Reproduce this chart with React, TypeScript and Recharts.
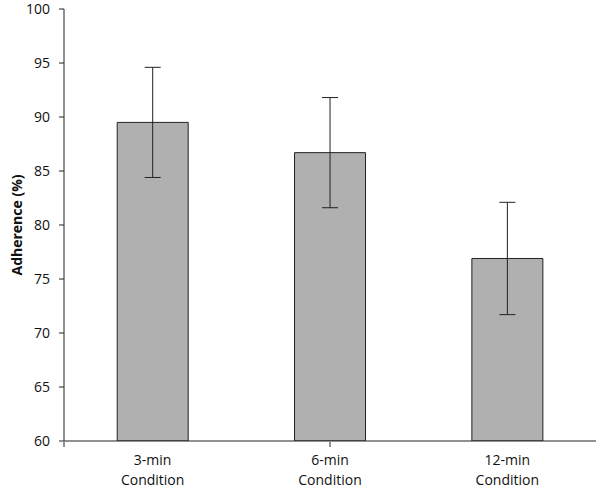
import { BarChart, Bar, XAxis, YAxis, ErrorBar } from "recharts";

const conditions = ["3-min|Condition", "6-min|Condition", "12-min|Condition"];
const adherence = [89.5, 86.7, 76.9];
const sdErr = [5.1, 5.1, 5.2];
const yTicks = [60, 65, 70, 75, 80, 85, 90, 95, 100];
const boundaryTicks = [0, 1, 2, 3];

const data = conditions.map((c, i) => ({ name: c, value: adherence[i], err: sdErr[i] }));

const FONT = "'Open Sans', sans-serif";

function CategoryTick(props: any) {
  const { x, y, payload } = props;
  const lines = String(payload.value).split("|");
  return (
    <text x={x} y={y} textAnchor="middle" fontFamily={FONT} fontSize={14} fill="#111">
      {lines.map((l, i) => (
        <tspan key={i} x={x} dy={i === 0 ? 16 : 20}>
          {l}
        </tspan>
      ))}
    </text>
  );
}

const EmptyTick = () => <g />;

export default function App() {
  return (
    <div style={{ position: "absolute", left: 0, top: 0, width: 600, height: 491, background: "#fff" }}>
      <BarChart
        width={600}
        height={491}
        data={data}
        margin={{ top: 9, right: 4, left: 0, bottom: 48 }}
        barCategoryGap="30%"
      >
        <XAxis
          dataKey="name"
          tick={<CategoryTick />}
          tickLine={false}
          axisLine={{ stroke: "#222" }}
          height={1}
          interval={0}
        />
        <XAxis
          xAxisId="edges"
          type="number"
          domain={[0, 3]}
          ticks={boundaryTicks}
          tick={<EmptyTick />}
          tickSize={5}
          axisLine={false}
          tickLine={{ stroke: "#222" }}
          height={1}
          allowDataOverflow
        />
        <YAxis
          domain={[60, 100]}
          ticks={yTicks}
          width={64}
          tickSize={5}
          tickMargin={9}
          axisLine={{ stroke: "#222" }}
          tickLine={{ stroke: "#222" }}
          tick={{ fontFamily: FONT, fontSize: 14, fill: "#111" }}
          allowDataOverflow
          label={{
            value: "Adherence (%)",
            angle: -90,
            position: "insideLeft",
            offset: 17,
            style: { textAnchor: "middle", fontFamily: FONT, fontSize: 14, fontWeight: 700, fill: "#111" },
          }}
        />
        <Bar dataKey="value" fill="#b0b0b0" stroke="#222" strokeWidth={1} isAnimationActive={false}>
          <ErrorBar dataKey="err" width={8} stroke="#222" strokeWidth={1} direction="y" />
        </Bar>
      </BarChart>
    </div>
  );
}
